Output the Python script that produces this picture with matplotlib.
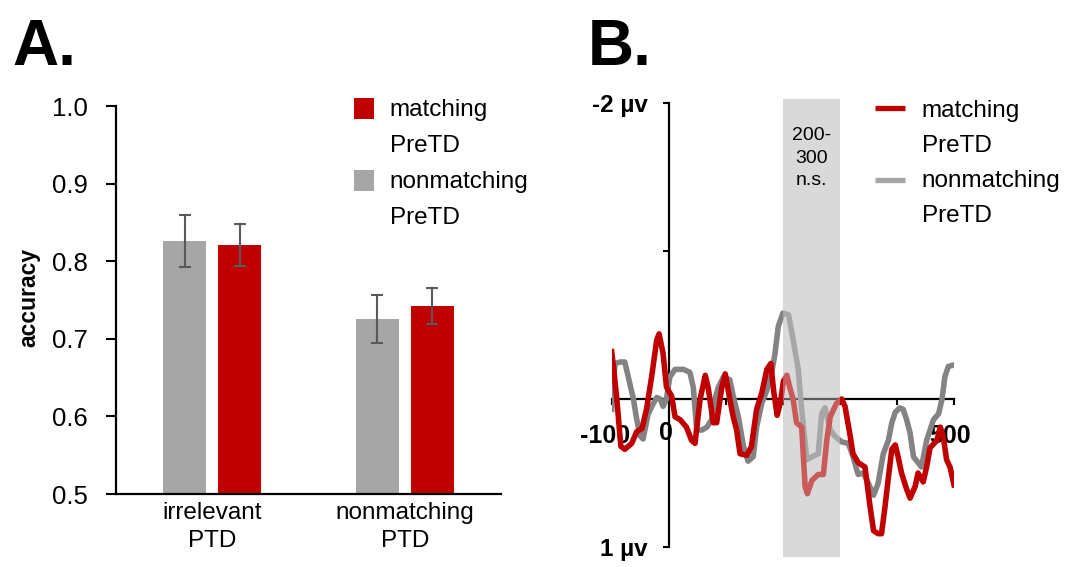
import numpy as np
import matplotlib
matplotlib.use("Agg")
import matplotlib.pyplot as plt
import matplotlib.transforms as mtransforms
from matplotlib.patches import Rectangle
from matplotlib.lines import Line2D

# ---------------- data ----------------
categories = ["irrelevant\nPTD", "nonmatching\nPTD"]
acc_nonmatching_pretd = [0.826, 0.726]
err_nonmatching_pretd = [0.034, 0.031]
acc_matching_pretd = [0.821, 0.742]
err_matching_pretd = [0.027, 0.023]

red_t = [-100, -97, -91, -84, -77, -65, -56, -47, -39, -30, -21, -17, -10, -4, 5, 11, 20, 31, 40, 46,
         55, 64, 69, 78, 84, 93, 99, 107, 113, 119, 125, 137, 145, 154, 163, 172, 179, 184, 190, 196,
         201, 207, 212, 218, 224, 233, 239, 243, 251, 262, 271, 277, 283, 294, 303, 309, 318, 323, 332, 344,
         353, 359, 367, 373, 379, 385, 391, 397, 402, 408, 417, 423, 432, 437, 446, 452, 458, 470, 476, 481,
         487, 493, 500]
red_v = [-0.32, -0.22, 0.0, 0.32, 0.34, 0.30, 0.22, 0.20, 0.07, -0.15, -0.40, -0.44, -0.31, -0.08, -0.02, 0.12, 0.14, 0.19, 0.28, 0.30,
         0.0, -0.16, -0.08, 0.16, 0.16, -0.08, -0.17, 0.0, 0.12, 0.21, 0.37, 0.38, 0.32, 0.07, -0.04, -0.20, -0.24, -0.05, 0.11, 0.02,
         -0.12, -0.16, -0.08, 0.0, 0.16, 0.19, 0.59, 0.64, 0.55, 0.51, 0.51, 0.28, 0.12, 0.03, 0.0, 0.05, 0.25, 0.37, 0.43, 0.46,
         0.73, 0.89, 0.91, 0.91, 0.73, 0.53, 0.34, 0.31, 0.39, 0.50, 0.61, 0.67, 0.59, 0.50, 0.56, 0.46, 0.33, 0.28, 0.19, 0.25,
         0.41, 0.46, 0.58]

gray_t = [-100, -98, -94, -85, -77, -71, -62, -56, -50, -45, -36, -27, -21, -15, -10, -4, 2, 11, 26, 37,
          43, 49, 58, 67, 75, 81, 87, 96, 107, 113, 122, 131, 139, 148, 154, 163, 172, 180, 186, 192,
          200, 210, 218, 227, 233, 242, 251, 262, 268, 274, 283, 291, 303, 315, 323, 332, 341, 350, 359, 367,
          376, 385, 391, 397, 405, 411, 417, 423, 429, 437, 443, 452, 464, 473, 479, 484, 490, 500]
gray_v = [0.07, -0.08, -0.24, -0.25, -0.25, -0.15, 0.0, 0.14, 0.25, 0.27, 0.10, 0.03, -0.01, 0.0, 0.05, 0.0, -0.15, -0.20, -0.20, -0.18,
          -0.08, 0.21, 0.21, 0.19, 0.14, 0.0, -0.08, -0.15, -0.13, -0.02, 0.12, 0.32, 0.42, 0.39, 0.19, 0.03, -0.06, -0.17, -0.30, -0.49,
          -0.58, -0.57, -0.40, -0.20, 0.07, 0.41, 0.39, 0.37, 0.10, 0.06, 0.21, 0.25, 0.29, 0.30, 0.39, 0.51, 0.50, 0.57, 0.65, 0.57,
          0.37, 0.28, 0.16, 0.09, 0.06, 0.07, 0.14, 0.23, 0.39, 0.43, 0.46, 0.28, 0.14, 0.10, 0.0, -0.15, -0.22, -0.23]

window = [200, 300]
window_text = "200-\n300\nn.s."
legend_lines = ["matching", "PreTD", "nonmatching", "PreTD"]

# ---------------- style ----------------
plt.rcParams["font.family"] = ["Liberation Sans", "DejaVu Sans"]

RED = "#C00000"
GRAY_BAR = "#A6A6A6"
GRAY_LINE = "#838383"
SHADE = "#D9D9D9"

W, H = 1066, 567
fig = plt.figure(figsize=(W / 100, H / 100), dpi=100)


def px(x, y):
    return (x / W, 1 - y / H)


# ---------------- panel A ----------------
axA = fig.add_axes([116 / W, 1 - 494 / H, 385 / W, 388 / H])
x = np.arange(len(categories))
off, bw = 0.143, 0.223
axA.bar(x - off, acc_nonmatching_pretd, width=bw, color=GRAY_BAR, zorder=2)
axA.bar(x + off, acc_matching_pretd, width=bw, color=RED, zorder=2)
axA.errorbar(x - off, acc_nonmatching_pretd, yerr=err_nonmatching_pretd, fmt="none",
             ecolor="#595959", elinewidth=1.5, capsize=4, capthick=1.5, zorder=3)
axA.errorbar(x + off, acc_matching_pretd, yerr=err_matching_pretd, fmt="none",
             ecolor="#595959", elinewidth=1.5, capsize=4, capthick=1.5, zorder=3)
axA.set_xlim(-0.5, 1.5)
axA.set_ylim(0.5, 1.0)
axA.set_yticks([0.5, 0.6, 0.7, 0.8, 0.9, 1.0])
axA.set_yticklabels(["0.5", "0.6", "0.7", "0.8", "0.9", "1.0"])
axA.set_xticks(x)
axA.set_xticklabels(categories, fontsize=17.5, linespacing=1.35)
axA.tick_params(axis="x", length=0, pad=6)
axA.tick_params(axis="y", length=7, width=1.5, pad=13, labelsize=18.5, direction="out")
for s in ["top", "right"]:
    axA.spines[s].set_visible(False)
for s in ["left", "bottom"]:
    axA.spines[s].set_linewidth(1.6)
fig.text(*px(29, 297), "accuracy", rotation=90, fontsize=16.5, fontweight="bold",
         ha="center", va="center")

# legend A (manual)
for (y0, col) in [(98, RED), (170, GRAY_BAR)]:
    fig.add_artist(Rectangle(px(353.5, y0 + 20.5), 20.5 / W, 20.5 / H, transform=fig.transFigure,
                             facecolor=col, edgecolor="none"))
for lab, ybase in zip(legend_lines, [116, 152, 188, 224]):
    fig.text(*px(389.5, ybase), lab, fontsize=17.5, ha="left", va="baseline")

fig.text(*px(12, 65), "A.", fontsize=46, fontweight="bold", ha="left", va="baseline")
fig.text(*px(588, 65), "B.", fontsize=46, fontweight="bold", ha="left", va="baseline")

# ---------------- panel B ----------------
ylo, yhi = -2.03, 1.07
top_px = 103 - 0.03 * 148
bot_px = 547 + 0.07 * 148
axB = fig.add_axes([611.7 / W, 1 - bot_px / H, 342.3 / W, (bot_px - top_px) / H])
axB.axvspan(window[0], window[1], color=SHADE, zorder=0, lw=0)
axB.plot(gray_t, gray_v, color=GRAY_LINE, lw=4.0, zorder=2)
axB.plot(red_t, red_v, color=RED, lw=4.0, zorder=3)
axB.axvspan(window[0], window[1], color=SHADE, alpha=0.42, zorder=4, lw=0)
axB.set_xlim(-100, 500)
axB.set_ylim(yhi, ylo)
axB.spines["left"].set_position(("data", 0))
axB.spines["bottom"].set_position(("data", 0))
axB.spines["left"].set_bounds(-2, 1)
for s in ["top", "right"]:
    axB.spines[s].set_visible(False)
for s in ["left", "bottom"]:
    axB.spines[s].set_linewidth(1.6)
    axB.spines[s].set_zorder(1)
axB.set_yticks([-2, -1, 0, 1])
axB.set_yticklabels(["-2 µv", "", "", "1 µv"], fontweight="bold", fontsize=17.5)
axB.set_xticks([-100, 0, 100, 200, 300, 400, 500])
axB.set_xticklabels(["-100", "", "", "", "", "", "500"], fontweight="bold", fontsize=18)
axB.tick_params(axis="y", length=4, width=1.5, pad=11, direction="out")
axB.tick_params(axis="x", length=4, width=1.5, pad=14, direction="out")
for lbl in axB.get_xticklabels():
    if lbl.get_text() == "-100":
        lbl.set_transform(lbl.get_transform() + mtransforms.ScaledTranslation(-7 / 100, 0, fig.dpi_scale_trans))
    if lbl.get_text() == "500":
        lbl.set_transform(lbl.get_transform() + mtransforms.ScaledTranslation(-4 / 100, 0, fig.dpi_scale_trans))
zero_tr = axB.transData + mtransforms.ScaledTranslation(-3 / 100, -34 / 100, fig.dpi_scale_trans)
axB.text(0, 0, "0", transform=zero_tr, fontsize=18, fontweight="bold",
         ha="center", va="center", zorder=1)
axB.text((window[0] + window[1]) / 2, -1.84, window_text, fontsize=14, ha="center", va="top",
         linespacing=1.45, zorder=5)

# legend B (manual)
for (yc, col) in [(108, RED), (180, GRAY_BAR)]:
    x0, y0 = px(875, yc)
    x1, _ = px(905, yc)
    fig.add_artist(Line2D([x0, x1], [y0, y0], transform=fig.transFigure, color=col, lw=3.8,
                          solid_capstyle="butt"))
for lab, ybase in zip(legend_lines, [117, 152, 187, 222]):
    fig.text(*px(921.7, ybase), lab, fontsize=17.5, ha="left", va="baseline")

fig.savefig("out.png", dpi=100)
